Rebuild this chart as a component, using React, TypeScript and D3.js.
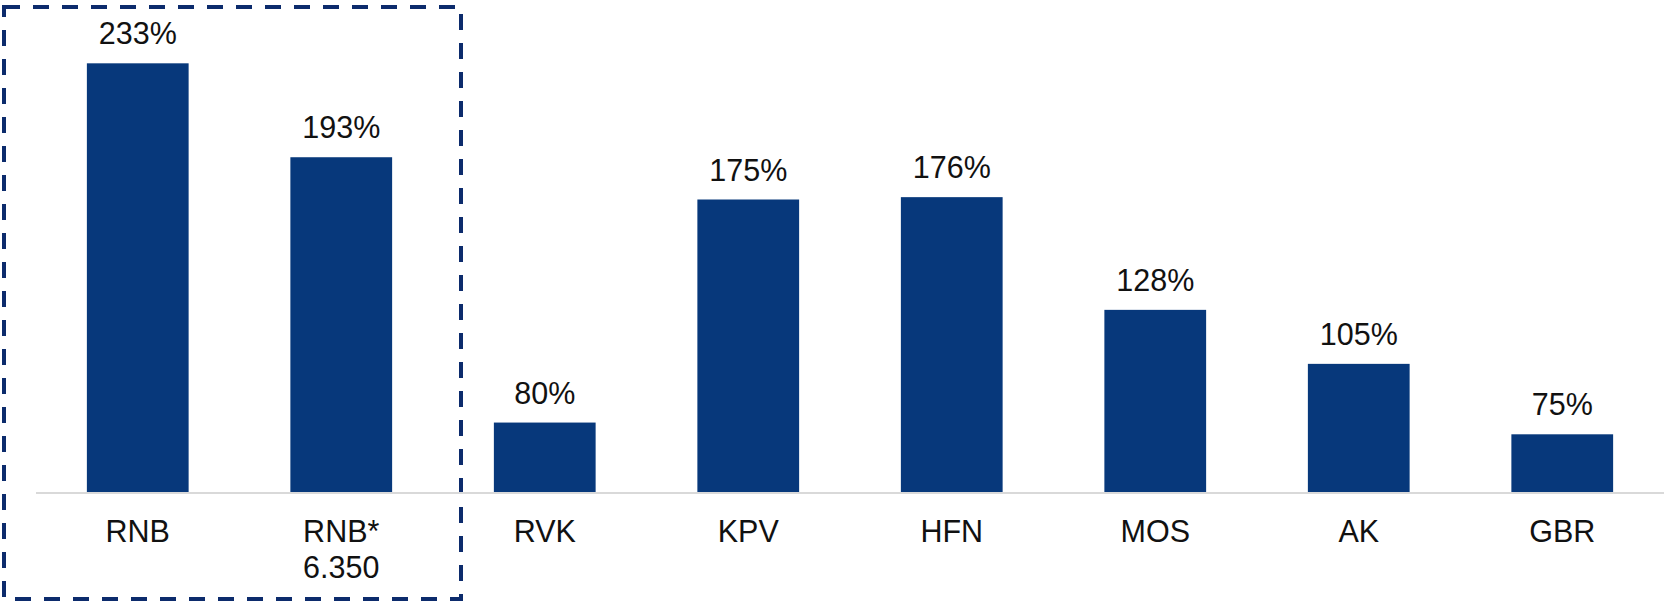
import { useEffect } from 'react';
import { scaleBand, scaleLinear } from 'd3';

const categories = ['RNB', 'RNB*\n6.350', 'RVK', 'KPV', 'HFN', 'MOS', 'AK', 'GBR'];
const values = [233, 193, 80, 175, 176, 128, 105, 75];
const yDomain = [50, 250];

const WIDTH = 1664;
const HEIGHT = 606;
const BAR_COLOR = '#07387b';
const BOX_COLOR = '#0c2b6c';
const FONT = '"Liberation Sans", Arial, sans-serif';

const App = () => {
    useEffect(() => {
        document.body.style.margin = '0';
    }, []);

    const xScale = scaleBand<string>()
        .domain(categories)
        .range([36, WIDTH])
        .paddingInner(0.5)
        .paddingOuter(0.25);

    const yScale = scaleLinear()
        .domain(yDomain)
        .range([493, 23.4]);

    const base = yScale(yDomain[0]);

    return (
        <svg width={WIDTH} height={HEIGHT} style={{ display: 'block' }} fontFamily={FONT}>
            {/* highlight box around the RNB columns */}
            <rect x={4} y={7} width={457} height={592}
                fill="none" stroke={BOX_COLOR} strokeWidth={4} strokeDasharray="16 13" />

            {categories.map((c, i) => {
                const x = xScale(c) as number;
                const y = yScale(values[i]);
                const cx = x + xScale.bandwidth() / 2;
                return (
                    <g key={c}>
                        <rect x={x} y={y} width={xScale.bandwidth()} height={base - y} fill={BAR_COLOR} />
                        <text x={cx} y={y - 19} textAnchor="middle" fontSize={30.5} fill="#111">
                            {values[i]}%
                        </text>
                        {c.split('\n').map((line, j) => (
                            <text key={j} x={cx} y={base + 48.7 + j * 36.6} textAnchor="middle"
                                fontSize={30.5} fill="#111">
                                {line}
                            </text>
                        ))}
                    </g>
                );
            })}

            <line x1={36} x2={WIDTH} y1={base} y2={base} stroke="#d9d9d9" strokeWidth={2} />
        </svg>
    );
};

export default App;
